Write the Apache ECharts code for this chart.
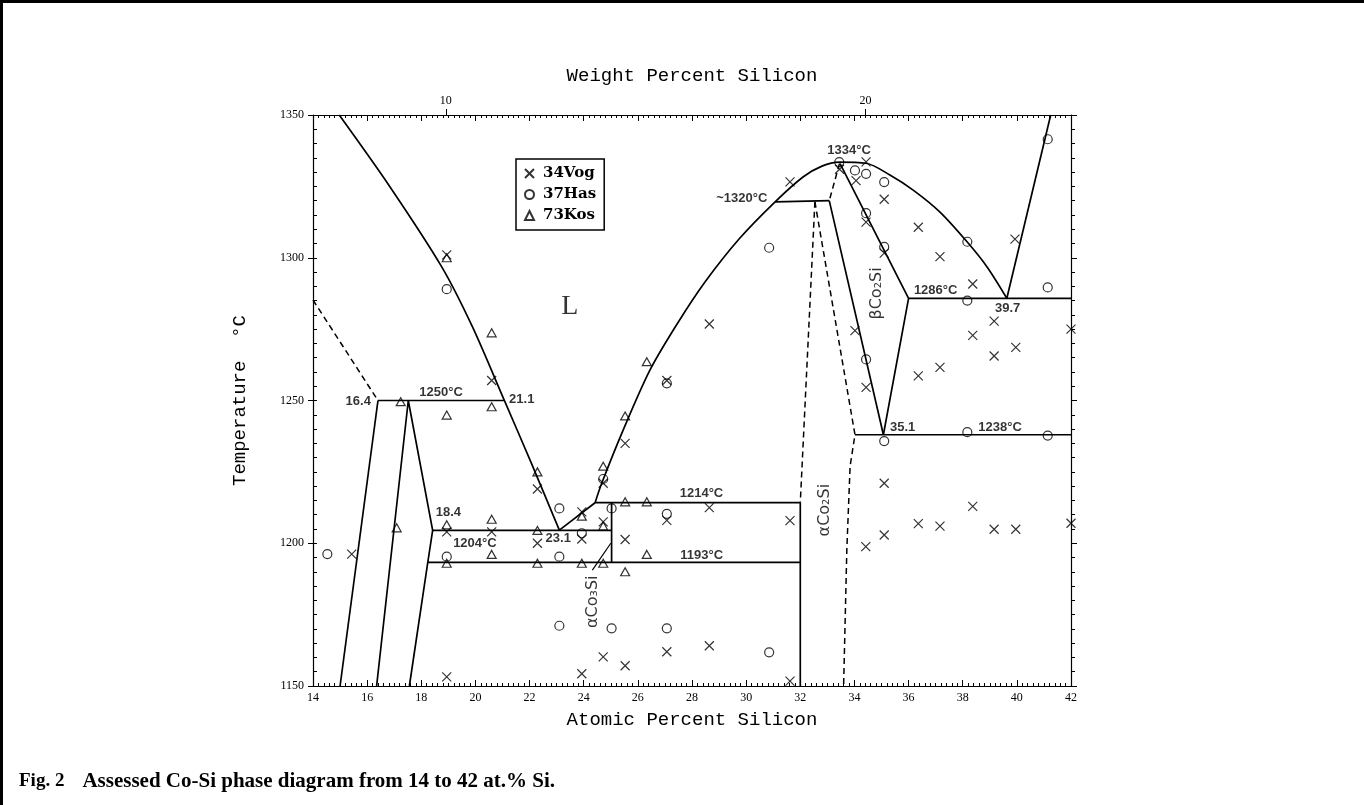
<!DOCTYPE html>
<html lang="en">
<head>
<meta charset="UTF-8">
<title>Co-Si phase diagram</title>
<script src="https://cdn.jsdelivr.net/npm/echarts@6/dist/echarts.min.js"></script>
<style>html,body{margin:0;padding:0;background:#fff;}</style>
</head>
<body>
<div id="chart" style="width:1364px;height:805px;"></div>
<script>
// ---- data (at.% Si, deg C) ----
var wtTicks = [10, 20]  // weight percent labels on the top axis

// phase boundaries, solid
var liqCo = [[14.97,1350],[16.84,1324.9],[18.75,1296.9],[19.87,1276.2],[21.06,1250.2],[22.05,1228.4],[23.1,1204.6]]
var liqCo3Si = [[23.1,1204.6],[24.42,1214.2]]
var liqMid = [[24.42,1214.2],[24.665,1221],[25.46,1239.7],[26.45,1260.7],[27.45,1276.8],[28.48,1291.5],[29.77,1306.9],
    [31.07,1319.6],[32.1,1328.3],[32.8,1332.1],[33.44,1333.5],[34.43,1333.1],[35.31,1329],[36.17,1323.7],[37.16,1316],
    [38.16,1305.6],[38.9,1296.8],[39.63,1285.8]]
var liqSi = [[39.63,1285.8],[41.25,1350]]
var iso1250 = [[16.4,1250],[21.06,1250]]
var phaseA = [[16.4,1250],[15.0,1150]]
var phaseB = [[16.35,1150],[17.52,1250],[18.42,1204.5],[18.24,1193.3],[17.56,1150]]
var iso1204 = [[18.42,1204.5],[25.03,1204.5]]
var iso1193 = [[18.24,1193.3],[32.0,1193.3]]
var iso1214 = [[24.42,1214.2],[32.0,1214.2]]
var co3SiEdge = [[25.03,1214.2],[25.03,1193.3]]
var co2SiEdge = [[32.0,1214.2],[32.0,1150]]
var iso1320 = [[31.07,1319.6],[33.07,1320]]
var betaLeft = [[33.07,1320],[35.07,1238]]
var betaRight = [[33.47,1333],[36.0,1285.8],[35.07,1238]]
var iso1286 = [[36.0,1285.8],[42,1285.8]]
var iso1238 = [[34.02,1238],[42,1238]]

// phase boundaries, dashed
var coSolvus = [[14,1285.2],[16.4,1250]]
var peakDash = [[33.45,1333],[33.07,1320]]
var co2SiDashL = [[32.54,1319.6],[32.0,1214.2]]
var co2SiDashR = [[32.54,1319.6],[34.02,1238],[33.84,1227],[33.72,1198],[33.6,1150]]

// experimental points
var vog = [[18.94,1301],[20.6,1257],[22.29,1219],[18.94,1204],[20.6,1204],[22.29,1200],[23.93,1211],[23.93,1201.5],
    [24.72,1221],[24.72,1207.5],[25.53,1235],[25.53,1201.3],[27.07,1257],[27.07,1208],[28.64,1276.8],[28.64,1212.5],
    [31.62,1326.6],[31.62,1207.9],[33.45,1331],[34.06,1327],[34.43,1333.6],[35.1,1320.5],[34.43,1312.5],[35.1,1301.6],
    [36.36,1310.7],[37.16,1300.4],[38.37,1290.8],[39.93,1306.5],[39.16,1277.8],[34.02,1274.5],[34.43,1254.6],[36.36,1258.6],
    [37.16,1261.6],[38.37,1272.8],[39.16,1265.6],[39.96,1268.6],[42,1275],[35.1,1221],[38.37,1212.9],[34.42,1198.8],
    [35.1,1202.9],[36.36,1206.9],[37.16,1206],[39.16,1204.9],[39.96,1204.9],[42,1207],[15.43,1196.2],[18.94,1153.2],
    [23.93,1154.3],[24.72,1160.2],[25.53,1157.1],[27.07,1162],[28.64,1164.1],[31.62,1151.7]]
var has = [[18.94,1289],[18.94,1195.3],[23.1,1212.2],[23.1,1195.3],[23.93,1203.5],[24.72,1222.5],[25.03,1212.2],[27.07,1256],
    [27.07,1210.3],[30.85,1303.5],[33.44,1333.5],[34.02,1330.6],[34.43,1329.4],[35.1,1326.5],[34.43,1315.6],[35.1,1303.8],
    [38.17,1305.6],[38.17,1285],[41.14,1289.6],[41.14,1341.5],[34.43,1264.4],[35.1,1235.8],[38.17,1238.9],[41.14,1237.7],
    [14.53,1196.2],[23.1,1171.1],[25.03,1170.2],[27.07,1170.2],[30.85,1161.8]]
var kos = [[18.94,1300],[20.6,1273.7],[20.6,1247.8],[17.24,1249.6],[18.94,1244.9],[22.29,1225],[17.09,1205.4],[18.94,1206.5],
    [18.94,1193],[20.6,1208.4],[20.6,1196.1],[22.29,1204.5],[22.29,1193],[23.93,1209.5],[23.93,1193],[24.72,1227],[24.72,1206],
    [24.72,1193],[25.53,1244.6],[25.53,1214.5],[26.33,1214.5],[26.33,1263.6],[25.53,1190],[26.33,1196.1]]

// text annotations: [text, x, y] (text centre)
var notes = [["16.4",15.67,1249.8],["1250°C",18.73,1252.7],["21.1",21.71,1250.5],["18.4",19.0,1210.7],["1204°C",19.98,1200.1],
    ["23.1",23.06,1201.8],["1214°C",28.35,1217.3],["1193°C",28.36,1195.8],["1286°C",37.0,1288.5],["39.7",39.66,1282.4],
    ["35.1",35.78,1240.5],["1238°C",39.38,1240.5],["1334°C",33.8,1337.6],["~1320°C",29.84,1320.7]]
var phaseNotes = [["βCo₂Si",34.83,1287.5],["αCo₂Si",32.91,1211.6],["αCo₃Si",24.33,1179.5]]
var liquidNote = ["L",23.49,1282.8]
var arrowCo3Si = [[24.32,1190.6],[25.0,1200]]

// ---- chart ----
function wtToAt(w){
    var a=w/28.086, b=(100-w)/58.933
    return 100*a/(a+b)
}
var wtPos = wtTicks.map(wtToAt)

var myChart = echarts.init(document.getElementById("chart"))

var solid = [liqCo3Si,liqSi,iso1250,phaseA,phaseB,iso1204,iso1193,iso1214,co3SiEdge,co2SiEdge,iso1320,betaLeft,betaRight,iso1286,iso1238]
var curved = [liqCo,liqMid]
var dashed = [coSolvus,peakDash,co2SiDashL,co2SiDashR]

var series = []
solid.forEach(function(d){
    series.push({type:"line",data:d,symbol:"none",silent:true,lineStyle:{color:"#000",width:1.7},z:2})
})
curved.forEach(function(d){
    series.push({type:"line",data:d,symbol:"none",silent:true,smooth:0.3,lineStyle:{color:"#000",width:1.7},z:2})
})
dashed.forEach(function(d){
    series.push({type:"line",data:d,symbol:"none",silent:true,lineStyle:{color:"#000",width:1.5,type:[6,4]},z:2})
})

var markStyle = {color:"rgba(0,0,0,0)",borderColor:"#000",borderWidth:1.2}
series.push({name:"34Vog",type:"scatter",data:vog,symbol:"path://M0,0L10,10M10,0L0,10",symbolSize:9,itemStyle:markStyle,z:3})
series.push({name:"37Has",type:"scatter",data:has,symbol:"circle",symbolSize:9,itemStyle:markStyle,z:3})
series.push({name:"73Kos",type:"scatter",data:kos,symbol:"triangle",symbolSize:[9,8],itemStyle:markStyle,z:3})

var labelData = notes.map(function(n){
    return {value:[n[1],n[2]],label:{formatter:n[0],fontFamily:"Liberation Sans",fontWeight:"bold",fontSize:13}}
}).concat(phaseNotes.map(function(n){
    return {value:[n[1],n[2]],label:{formatter:n[0],fontFamily:"DejaVu Sans",fontSize:16,rotate:90}}
})).concat([{value:[liquidNote[1],liquidNote[2]],label:{formatter:liquidNote[0],fontFamily:"Liberation Serif",fontSize:28}}])

series.push({
    type:"scatter",silent:true,symbolSize:0,data:labelData,z:4,
    label:{show:true,position:[0,0],align:"center",verticalAlign:"middle",color:"#000"},
    markLine:{
        silent:true,symbol:["none","arrow"],symbolSize:[0,8],animation:false,
        lineStyle:{color:"#000",width:1.2,type:"solid"},label:{show:false},
        data:[[{coord:arrowCo3Si[0]},{coord:arrowCo3Si[1]}]]
    }
})

var tickFont = {fontFamily:"Liberation Serif",fontSize:12,color:"#000"}
var titleFont = {fontFamily:"Liberation Mono",fontSize:19,color:"#000"}
var axisLine = {show:true,lineStyle:{color:"#000",width:1.2}}
function plain(v){ return String(v) }

var option = {
    animation:false,
    backgroundColor:"#fff",
    grid:{left:313,right:293,top:115,bottom:119,containLabel:false,outerBoundsMode:"none"},
    legend:{
        data:["34Vog","37Has","73Kos"],orient:"vertical",left:516,top:159,
        padding:[7,8,7,8],itemGap:6,itemWidth:9,itemHeight:9,selectedMode:false,
        borderColor:"#000",borderWidth:1.5,
        textStyle:{fontFamily:"DejaVu Serif",fontWeight:"bold",fontSize:15,color:"#000",padding:[0,0,0,4]}
    },
    xAxis:[
        {type:"value",position:"bottom",min:14,max:42,interval:2,
         name:"Atomic Percent Silicon",nameLocation:"middle",nameGap:24,nameTextStyle:titleFont,
         axisLine:axisLine,axisTick:{inside:true,length:6,lineStyle:{color:"#000"}},
         minorTick:{show:true,splitNumber:10,length:3,lineStyle:{color:"#000"}},
         axisLabel:Object.assign({margin:6,formatter:plain},tickFont),splitLine:{show:false}},
        {type:"value",position:"top",min:14,max:42,interval:2,
         axisLine:axisLine,axisTick:{inside:true,length:6,lineStyle:{color:"#000"}},
         minorTick:{show:true,splitNumber:10,length:3,lineStyle:{color:"#000"}},
         axisLabel:{show:false},splitLine:{show:false}},
        {type:"value",position:"top",min:14,max:42,
         name:"Weight Percent Silicon",nameLocation:"middle",nameGap:30,nameTextStyle:titleFont,
         axisLine:{show:false},
         axisTick:{show:true,inside:false,length:6,customValues:wtPos,lineStyle:{color:"#000"}},
         axisLabel:Object.assign({show:true,margin:8,customValues:wtPos,formatter:function(v){
             var i=wtPos.findIndex(function(p){return Math.abs(p-v)<1e-6})
             return i<0?"":String(wtTicks[i])
         }},tickFont),splitLine:{show:false}}
    ],
    yAxis:[
        {type:"value",position:"left",min:1150,max:1350,interval:50,
         name:"Temperature  °C",nameLocation:"middle",nameGap:64,nameTextStyle:titleFont,
         axisLine:axisLine,axisTick:{inside:false,length:5,lineStyle:{color:"#000"}},
         axisLabel:Object.assign({margin:9,formatter:plain},tickFont),splitLine:{show:false}},
        {type:"value",position:"left",min:1150,max:1350,interval:50,
         axisLine:{show:false},axisTick:{inside:true,length:4,lineStyle:{color:"#000"}},
         minorTick:{show:true,splitNumber:10,length:4,lineStyle:{color:"#000"}},
         axisLabel:{show:false},splitLine:{show:false}},
        {type:"value",position:"right",min:1150,max:1350,interval:50,
         axisLine:axisLine,axisTick:{inside:false,length:6,lineStyle:{color:"#000"}},
         minorTick:{show:true,splitNumber:10,length:4,lineStyle:{color:"#000"}},
         axisLabel:{show:false},splitLine:{show:false}}
    ],
    graphic:[
        {type:"rect",left:0,top:0,shape:{width:3,height:805},style:{fill:"#000"}},
        {type:"rect",left:0,top:0,shape:{width:1364,height:3},style:{fill:"#000"}},
        {type:"text",left:19,top:771,style:{
            text:"{b|Fig. 2}{n|Assessed Co-Si phase diagram from 14 to 42 at.% Si.}",
            rich:{
                b:{fontFamily:"Liberation Serif",fontWeight:"bold",fontSize:19,fill:"#000",padding:[0,18,0,0]},
                n:{fontFamily:"Liberation Serif",fontWeight:"bold",fontSize:21,fill:"#000"}
            }
        }}
    ],
    series:series
}
myChart.setOption(option)
</script>
</body>
</html>
